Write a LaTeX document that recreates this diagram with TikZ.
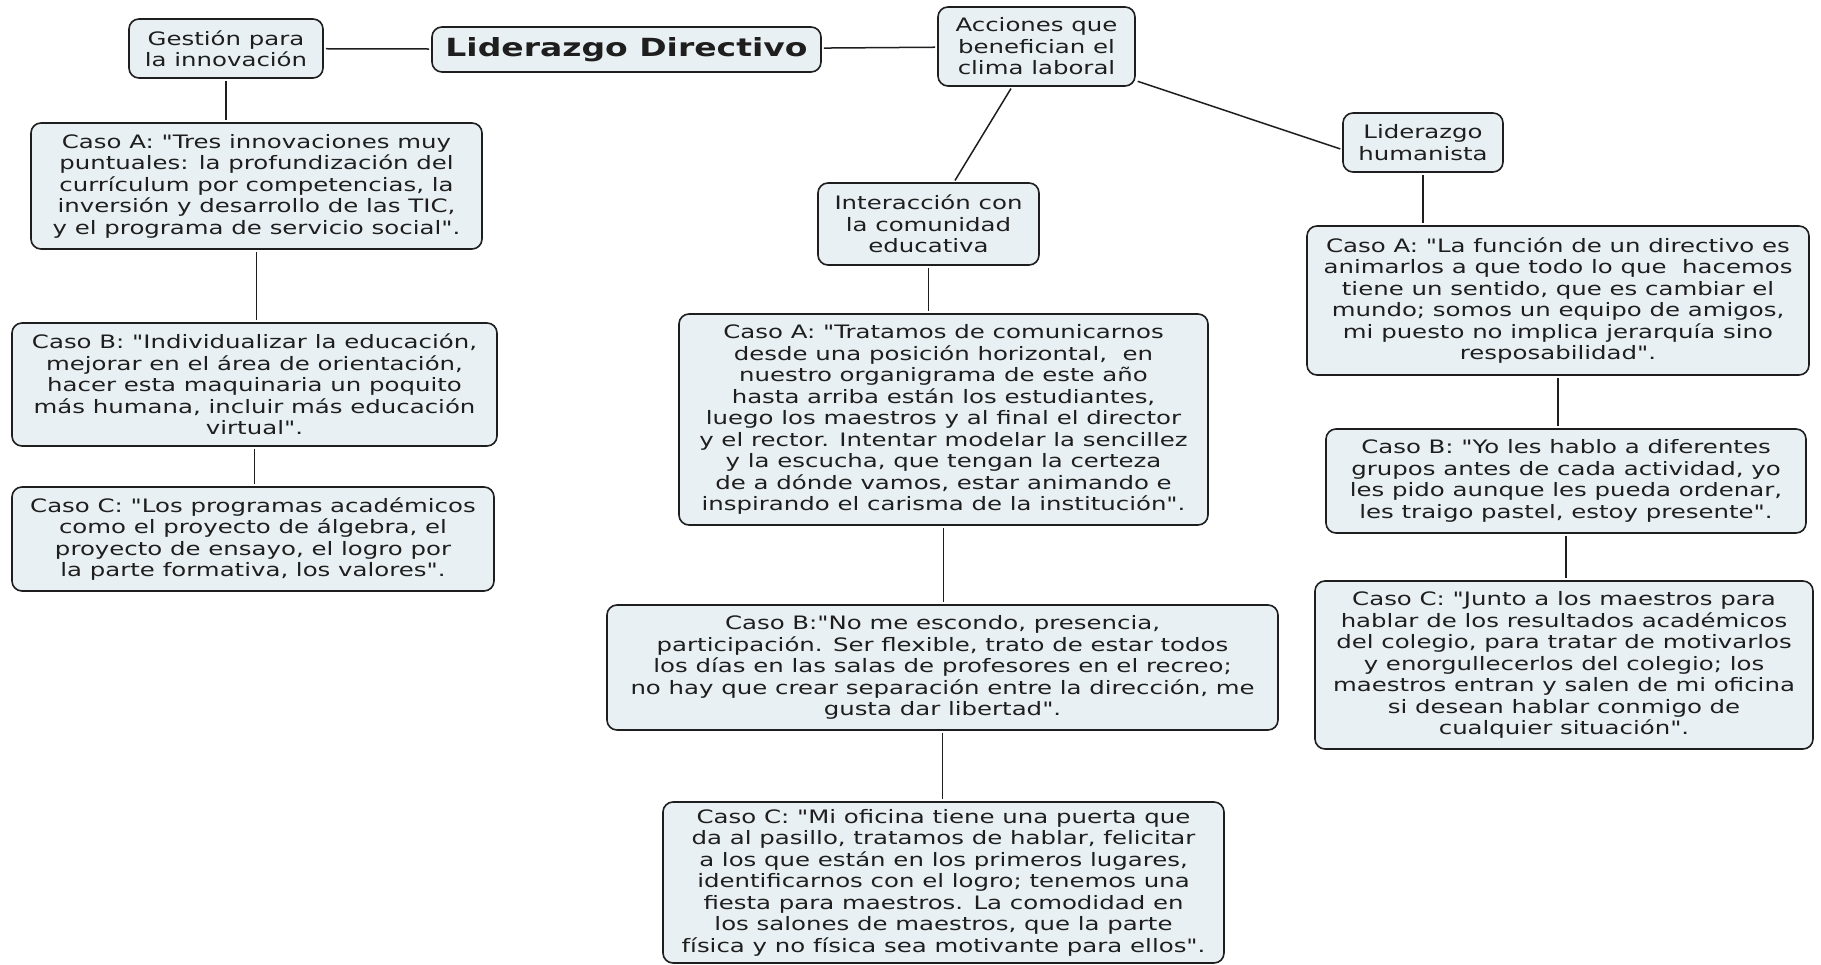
\documentclass[tikz,border=0pt]{standalone}
\usepackage{fontspec}
\setmainfont{DejaVu Sans}[Ligatures=TeXOff, FakeStretch=1.32]
\definecolor{boxfill}{RGB}{233,240,243}
\definecolor{ink}{RGB}{30,30,30}
\begin{document}
\begin{tikzpicture}[x=1pt,y=-1pt,
  box/.style={draw=ink, line width=1.6pt, rounded corners=10pt, fill=boxfill,
    align=center, inner sep=0pt, text=ink,
    font=\fontsize{18.5}{21.5}\selectfont},
  link/.style={draw=ink, line width=1.5pt, shorten >=2pt, shorten <=2pt}]
\useasboundingbox (0,0) rectangle (1821,965);

% central topic and main branches
\node[box, minimum width=389pt, minimum height=45pt,
      font=\fontsize{25}{28}\selectfont\bfseries] (ld) at (626.5,49.5) {Liderazgo Directivo};
\node[box, minimum width=194pt, minimum height=59pt] (gest) at (226,48.5) {Gestión para\\la innovación};
\node[box, minimum width=197pt, minimum height=79pt] (acc) at (1036.5,46.5) {Acciones que\\benefician el\\clima laboral};
\node[box, minimum width=160pt, minimum height=59pt] (hum) at (1423,142.5) {Liderazgo\\humanista};
\node[box, minimum width=221pt, minimum height=82pt] (inter) at (928.5,224) {Interacción con\\la comunidad\\educativa};

% left column
\node[box, minimum width=451pt, minimum height=126pt] (la) at (256.5,186) {Caso A: "Tres innovaciones muy\\puntuales: la profundización del\\currículum por competencias, la\\inversión y desarrollo de las TIC,\\y el programa de servicio social".};
\node[box, minimum width=485pt, minimum height=123pt] (lb) at (254.5,384.5) {Caso B: "Individualizar la educación,\\mejorar en el área de orientación,\\hacer esta maquinaria un poquito\\más humana, incluir más educación\\virtual".};
\node[box, minimum width=482pt, minimum height=104pt] (lc) at (253,539) {Caso C: "Los programas académicos\\como el proyecto de álgebra, el\\proyecto de ensayo, el logro por\\la parte formativa, los valores".};

% middle column
\node[box, minimum width=529pt, minimum height=211pt] (ma) at (943.5,419.5) {Caso A: "Tratamos de comunicarnos\\desde una posición horizontal,\ \ en\\nuestro organigrama de este año\\hasta arriba están los estudiantes,\\luego los maestros y al final el director\\y el rector. Intentar modelar la sencillez\\y la escucha, que tengan la certeza\\de a dónde vamos, estar animando e\\inspirando el carisma de la institución".};
\node[box, minimum width=671pt, minimum height=125pt] (mb) at (942.5,667.5) {Caso B:"No me escondo, presencia,\\participación. Ser flexible, trato de estar todos\\los días en las salas de profesores en el recreo;\\no hay que crear separación entre la dirección, me\\gusta dar libertad".};
\node[box, minimum width=561pt, minimum height=161pt] (mc) at (943.5,882.5) {Caso C: "Mi oficina tiene una puerta que\\da al pasillo, tratamos de hablar, felicitar\\a los que están en los primeros lugares,\\identificarnos con el logro; tenemos una\\fiesta para maestros. La comodidad en\\los salones de maestros, que la parte\\física y no física sea motivante para ellos".};

% right column
\node[box, minimum width=502pt, minimum height=149pt] (ra) at (1558,300.5) {Caso A: "La función de un directivo es\\animarlos a que todo lo que\ \ hacemos\\tiene un sentido, que es cambiar el\\mundo; somos un equipo de amigos,\\mi puesto no implica jerarquía sino\\resposabilidad".};
\node[box, minimum width=480pt, minimum height=104pt] (rb) at (1566,481) {Caso B: "Yo les hablo a diferentes\\grupos antes de cada actividad, yo\\les pido aunque les pueda ordenar,\\les traigo pastel, estoy presente".};
\node[box, minimum width=498pt, minimum height=168pt] (rc) at (1564,665) {Caso C: "Junto a los maestros para\\hablar de los resultados académicos\\del colegio, para tratar de motivarlos\\y enorgullecerlos del colegio; los\\maestros entran y salen de mi oficina\\si desean hablar conmigo de\\cualquier situación".};

% connectors
\draw[link] (gest) -- (ld);
\draw[link] (ld) -- (acc);
\draw[link] (acc) -- (inter);
\draw[link] (acc.-19) -- (hum.185);
\draw[link] (gest.south) -- (gest.south |- la.north);
\draw[link] (la.south) -- (la.south |- lb.north);
\draw[link] (lb.south) -- (lb.south |- lc.north);
\draw[link] (inter.south) -- (inter.south |- ma.north);
\draw[link] (ma.south) -- (ma.south |- mb.north);
\draw[link] (mb.south) -- (mb.south |- mc.north);
\draw[link] (hum.south) -- (hum.south |- ra.north);
\draw[link] (ra.south) -- (ra.south |- rb.north);
\draw[link] (rb.south) -- (rb.south |- rc.north);
\end{tikzpicture}
\end{document}
